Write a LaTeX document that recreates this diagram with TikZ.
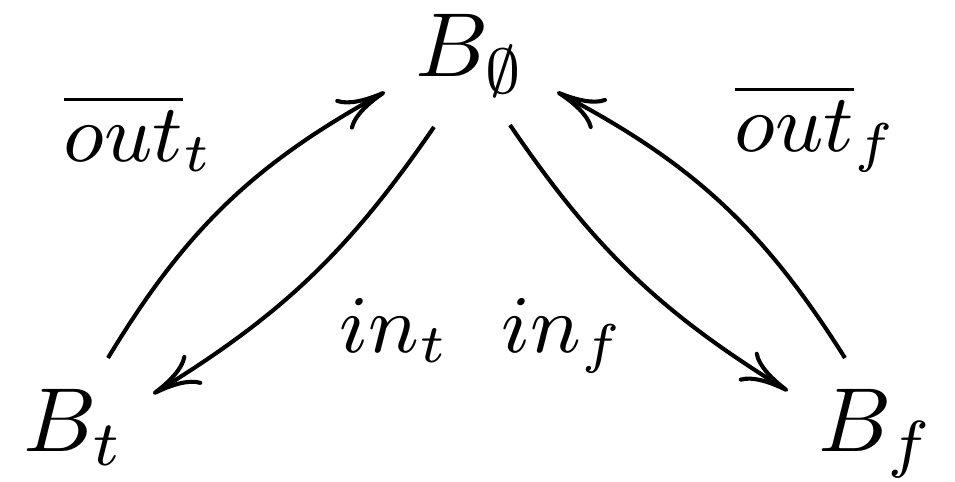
\documentclass[tikz,border=0pt]{standalone}
\usepackage{amsmath,amssymb}
\usepackage{tikz}
\usetikzlibrary{arrows.meta}

\begin{document}
\begin{tikzpicture}[x=0.11pt,y=-0.11pt,every node/.style={inner sep=0pt},
  state/.style={anchor=base west},
  lbl/.style={anchor=base west,font=\small},
  arr/.style={-{Computer Modern Rightarrow[length=5.3pt,width=3.8pt]},line width=0.45pt}]
\useasboundingbox (0,0) rectangle (955,482);
% states
\node[state] (B0) at (414,77) {$B_\emptyset$};
\node[state] (Bt) at (22,452) {$B_t$};
\node[state] (Bf) at (817,452) {$B_f$};
% transitions
\draw[arr] ([shift={(86,-94)}]Bt.base west) to[bend left=15] ([shift={(-29,15)}]B0.base west);
\draw[arr] ([shift={(20,50)}]B0.base west) to[bend left=12] ([shift={(131,-58)}]Bt.base west);
\draw[arr] ([shift={(96,48)}]B0.base west) to[bend right=12] ([shift={(-29,-61)}]Bf.base west);
\draw[arr] ([shift={(28,-94)}]Bf.base west) to[bend right=15] ([shift={(143,15)}]B0.base west);
% labels
\node[lbl] (ot) at (62,162) {$\overline{out}_t$};
\node[lbl] (it) at (338,353) {$in_t$};
\node[lbl] (if) at (500,353) {$in_f$};
\node[lbl] (of) at (733,152) {$\overline{out}_f$};
\end{tikzpicture}
\end{document}
